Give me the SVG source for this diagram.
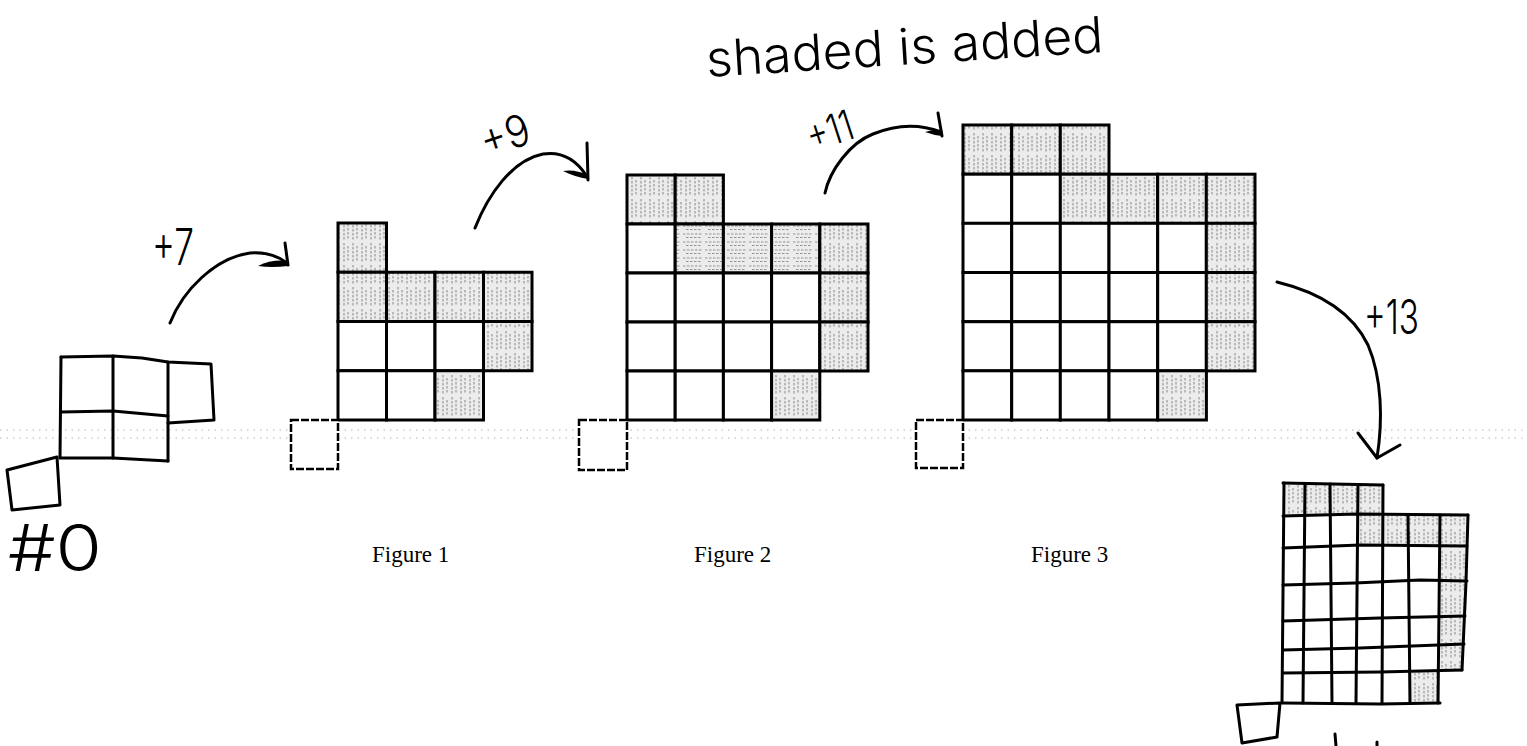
<svg xmlns="http://www.w3.org/2000/svg" width="1527" height="746" viewBox="0 0 1527 746">
<defs>
<pattern id="pv" width="9" height="22" patternUnits="userSpaceOnUse">
<rect width="9" height="22" fill="#ececec"/>
<path d="M2,1 V21 M6,4 V19" stroke="#7a7a7a" stroke-width="0.9" stroke-dasharray="2.5 1.5" fill="none"/>
</pattern>
<pattern id="ph" width="22" height="8" patternUnits="userSpaceOnUse">
<rect width="22" height="8" fill="#ececec"/>
<path d="M1,2 H21 M4,5.5 H19" stroke="#8a8a8a" stroke-width="0.9" stroke-dasharray="2.5 1.5" fill="none"/>
</pattern>
</defs>
<style>
.c{fill:#fff;stroke:#000;stroke-width:3}
.s{fill:url(#pv);stroke:#000;stroke-width:3}
.h{fill:url(#ph);stroke:#000;stroke-width:3}
.b{fill:#fff;stroke:#000;stroke-width:2.5;stroke-dasharray:8 2}
.hand{fill:none;stroke:#000;stroke-width:3;stroke-linecap:round;stroke-linejoin:round}
.hs{fill:url(#pv);stroke:none}
.lbl{font-family:"Liberation Serif","Times New Roman",serif;font-size:23px;fill:#000}
.hw{font-family:Inter,"DejaVu Sans",sans-serif;font-weight:300;fill:#000}
.scan{stroke:#b5b5b5;stroke-width:1.2;stroke-dasharray:1.5 5;fill:none}
</style>
<rect width="1527" height="746" fill="#fff"/>
<g id="scanlines">
<path class="scan" d="M0,430 H1527"/>
<path class="scan" d="M0,438 H1527"/>
</g>

<g id="figure0">
<path class="hand" d="M61,357 L113,356 L142,358 L168,362 L211,364 L214,420 L168,423"/>
<path class="hand" d="M61,412 L113,411 L168,416"/>
<path class="hand" d="M61,458 L113,458 L168,461"/>
<path class="hand" d="M61,357 L60,458 M113,356 L113,458 M168,362 L168,461"/>
<path class="hand" d="M7,470 L57,457 L60,505 L12,510 Z"/>
<text class="hw" x="8" y="571" font-size="64" textLength="94" lengthAdjust="spacingAndGlyphs">#0</text>
</g>

<g id="figure1">
<rect class="s" x="338" y="223" width="48.5" height="49.25"/>
<rect class="s" x="338" y="272.25" width="48.5" height="49.25"/>
<rect class="s" x="386.5" y="272.25" width="48.5" height="49.25"/>
<rect class="s" x="435" y="272.25" width="48.5" height="49.25"/>
<rect class="s" x="483.5" y="272.25" width="48.5" height="49.25"/>
<rect class="c" x="338" y="321.5" width="48.5" height="49.25"/>
<rect class="c" x="386.5" y="321.5" width="48.5" height="49.25"/>
<rect class="c" x="435" y="321.5" width="48.5" height="49.25"/>
<rect class="s" x="483.5" y="321.5" width="48.5" height="49.25"/>
<rect class="c" x="338" y="370.75" width="48.5" height="49.25"/>
<rect class="c" x="386.5" y="370.75" width="48.5" height="49.25"/>
<rect class="s" x="435" y="370.75" width="48.5" height="49.25"/>
<rect class="b" x="291" y="420" width="47" height="49"/>
<text class="lbl" x="372" y="562">Figure 1</text>
</g>

<g id="figure2">
<rect class="s" x="627" y="175" width="48.2" height="49"/>
<rect class="s" x="675.2" y="175" width="48.2" height="49"/>
<rect class="c" x="627" y="224" width="48.2" height="49"/>
<rect class="h" x="675.2" y="224" width="48.2" height="49"/>
<rect class="h" x="723.4" y="224" width="48.2" height="49"/>
<rect class="h" x="771.6" y="224" width="48.2" height="49"/>
<rect class="s" x="819.8" y="224" width="48.2" height="49"/>
<rect class="c" x="627" y="273" width="48.2" height="49"/>
<rect class="c" x="675.2" y="273" width="48.2" height="49"/>
<rect class="c" x="723.4" y="273" width="48.2" height="49"/>
<rect class="c" x="771.6" y="273" width="48.2" height="49"/>
<rect class="s" x="819.8" y="273" width="48.2" height="49"/>
<rect class="c" x="627" y="322" width="48.2" height="49"/>
<rect class="c" x="675.2" y="322" width="48.2" height="49"/>
<rect class="c" x="723.4" y="322" width="48.2" height="49"/>
<rect class="c" x="771.6" y="322" width="48.2" height="49"/>
<rect class="s" x="819.8" y="322" width="48.2" height="49"/>
<rect class="c" x="627" y="371" width="48.2" height="49"/>
<rect class="c" x="675.2" y="371" width="48.2" height="49"/>
<rect class="c" x="723.4" y="371" width="48.2" height="49"/>
<rect class="s" x="771.6" y="371" width="48.2" height="49"/>
<rect class="b" x="579" y="420" width="48" height="50"/>
<text class="lbl" x="694" y="562">Figure 2</text>
</g>

<g id="figure3">
<rect class="s" x="963" y="125" width="48.7" height="49.2"/>
<rect class="s" x="1011.7" y="125" width="48.7" height="49.2"/>
<rect class="s" x="1060.3" y="125" width="48.7" height="49.2"/>
<rect class="c" x="963" y="174.2" width="48.7" height="49.2"/>
<rect class="c" x="1011.7" y="174.2" width="48.7" height="49.2"/>
<rect class="s" x="1060.3" y="174.2" width="48.7" height="49.2"/>
<rect class="s" x="1109" y="174.2" width="48.7" height="49.2"/>
<rect class="s" x="1157.7" y="174.2" width="48.7" height="49.2"/>
<rect class="s" x="1206.3" y="174.2" width="48.7" height="49.2"/>
<rect class="c" x="963" y="223.3" width="48.7" height="49.2"/>
<rect class="c" x="1011.7" y="223.3" width="48.7" height="49.2"/>
<rect class="c" x="1060.3" y="223.3" width="48.7" height="49.2"/>
<rect class="c" x="1109" y="223.3" width="48.7" height="49.2"/>
<rect class="c" x="1157.7" y="223.3" width="48.7" height="49.2"/>
<rect class="s" x="1206.3" y="223.3" width="48.7" height="49.2"/>
<rect class="c" x="963" y="272.5" width="48.7" height="49.2"/>
<rect class="c" x="1011.7" y="272.5" width="48.7" height="49.2"/>
<rect class="c" x="1060.3" y="272.5" width="48.7" height="49.2"/>
<rect class="c" x="1109" y="272.5" width="48.7" height="49.2"/>
<rect class="c" x="1157.7" y="272.5" width="48.7" height="49.2"/>
<rect class="s" x="1206.3" y="272.5" width="48.7" height="49.2"/>
<rect class="c" x="963" y="321.7" width="48.7" height="49.2"/>
<rect class="c" x="1011.7" y="321.7" width="48.7" height="49.2"/>
<rect class="c" x="1060.3" y="321.7" width="48.7" height="49.2"/>
<rect class="c" x="1109" y="321.7" width="48.7" height="49.2"/>
<rect class="c" x="1157.7" y="321.7" width="48.7" height="49.2"/>
<rect class="s" x="1206.3" y="321.7" width="48.7" height="49.2"/>
<rect class="c" x="963" y="370.8" width="48.7" height="49.2"/>
<rect class="c" x="1011.7" y="370.8" width="48.7" height="49.2"/>
<rect class="c" x="1060.3" y="370.8" width="48.7" height="49.2"/>
<rect class="c" x="1109" y="370.8" width="48.7" height="49.2"/>
<rect class="s" x="1157.7" y="370.8" width="48.7" height="49.2"/>
<rect class="b" x="916" y="420" width="47" height="48"/>
<text class="lbl" x="1031" y="562">Figure 3</text>
</g>

<g id="figure4">
<path class="hs" d="M1283,483 L1383,485 L1383,515 L1283,515 Z"/>
<path class="hs" d="M1358,515 L1468,515 L1468,546 L1358,546 Z"/>
<path class="hs" d="M1440,546 L1467,546 L1466,582 L1462,672 L1440,672 Z"/>
<path class="hs" d="M1408,672 L1440,672 L1440,703 L1408,703 Z"/>
<path class="hand" d="M1283,483 L1383,485"/>
<path class="hand" d="M1283,516 L1358,514 L1468,515"/>
<path class="hand" d="M1283,548 L1360,545 L1467,546"/>
<path class="hand" d="M1283,585 L1355,583 L1420,580 L1467,581"/>
<path class="hand" d="M1283,621 L1380,618 L1465,616"/>
<path class="hand" d="M1283,650 L1360,648 L1464,644"/>
<path class="hand" d="M1283,673 L1380,672 L1462,670"/>
<path class="hand" d="M1283,703 L1380,704 L1440,703"/>
<path class="hand" d="M1284,483 L1282,703"/>
<path class="hand" d="M1305,484 L1303,703"/>
<path class="hand" d="M1330,484 L1332,703"/>
<path class="hand" d="M1358,485 L1356,703"/>
<path class="hand" d="M1383,485 L1382,703"/>
<path class="hand" d="M1408,515 L1410,703"/>
<path class="hand" d="M1440,515 L1438,703"/>
<path class="hand" d="M1468,515 L1466,582 L1462,670"/>
<path class="hand" d="M1237,705 L1280,703 L1277,737 L1242,743 Z"/>
<path class="hand" d="M1335,734 L1336,746 M1377,742 L1377,746"/>
</g>

<g id="connectors">
<path class="hand" d="M170,323 C183,290 215,258 250,253 C265,252 278,256 287,263"/>
<path class="hand" d="M285,243 L288,265"/>
<path d="M258,266 Q272,259 288,261 L288,266 Q272,268 258,266 Z" fill="#000"/>
<path class="hand" d="M475,228 C488,195 512,160 543,154 C562,151 576,160 586,175"/>
<path class="hand" d="M587,143 L588,180"/>
<path d="M563,171 Q575,169 588,175 L588,179 Q575,177 563,171 Z" fill="#000"/>
<path class="hand" d="M825,193 C830,170 850,143 873,134 C890,127 915,122 941,132"/>
<path class="hand" d="M938,113 L942,136"/>
<path d="M925,132 Q933,129 942,131 L942,136 Q933,135 925,132 Z" fill="#000"/>
<path class="hand" d="M1277,282 C1318,292 1352,312 1368,345 C1382,378 1383,420 1377,458"/>
<path class="hand" d="M1358,433 L1377,458 L1400,445"/>
</g>

<g id="annotations">
<text class="hw" x="707" y="77" font-size="50" font-weight="200" textLength="398" lengthAdjust="spacingAndGlyphs" transform="rotate(-3.6 707 77)">shaded is added</text>
<text class="hw" x="152" y="265" font-size="50" textLength="42" lengthAdjust="spacingAndGlyphs">+7</text>
<text class="hw" x="486" y="158" font-size="44" textLength="50" lengthAdjust="spacingAndGlyphs" transform="rotate(-18 486 158)">+9</text>
<text class="hw" x="812" y="152" font-size="42" textLength="47" lengthAdjust="spacingAndGlyphs" transform="rotate(-18 812 152)">+11</text>
<text class="hw" x="1364" y="334" font-size="48" textLength="55" lengthAdjust="spacingAndGlyphs">+13</text>
</g>
</svg>
